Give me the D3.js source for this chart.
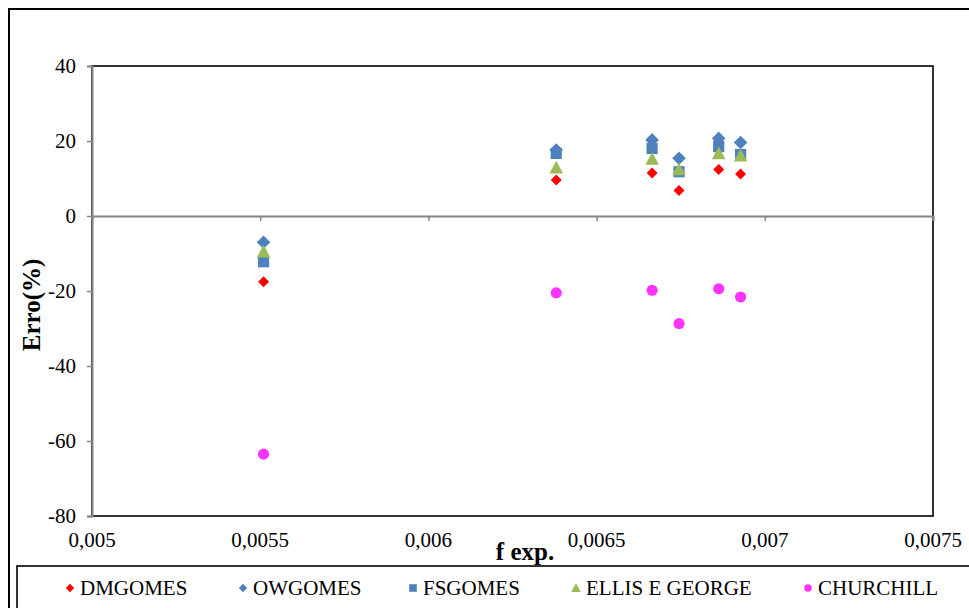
<!DOCTYPE html>
<html>
<head>
<meta charset="utf-8">
<script src="https://cdn.jsdelivr.net/npm/d3@7"></script>
<style>
  html, body { margin: 0; padding: 0; background: #fff; }
  svg { display: block; }
</style>
</head>
<body>
<svg id="chart" width="969" height="608"></svg>
<script>
// ---- data ----
const fExp = [0.00551, 0.00638, 0.006665, 0.006745, 0.006863, 0.006928];
const dmgomes = [-17.5, 9.6, 11.5, 6.8, 12.4, 11.2];
const owgomes = [-7.0, 17.6, 20.3, 15.4, 20.7, 19.6];
const fsgomes = [-12.2, 16.7, 18.0, 11.8, 18.5, 16.4];
const ellisGeorge = [-9.5, 12.9, 15.2, 12.4, 16.7, 16.1];
const churchill = [-63.5, -20.5, -19.8, -28.7, -19.4, -21.6];
const seriesNames = ["DMGOMES", "OWGOMES", "FSGOMES", "ELLIS E GEORGE", "CHURCHILL"];
const xTicks = [0.005, 0.0055, 0.006, 0.0065, 0.007, 0.0075];
const yTicks = [40, 20, 0, -20, -40, -60, -80];
const xTitle = "f exp.";
const yTitle = "Erro(%)";

const series = [
  { name: seriesNames[0], values: dmgomes, shape: "diamond", color: "#FF0000", r: 5.5, lr: 4.2 },
  { name: seriesNames[1], values: owgomes, shape: "diamond", color: "#4F81BD", r: 6.8, lr: 4.2 },
  { name: seriesNames[2], values: fsgomes, shape: "square", color: "#4F81BD", r: 5.6, lr: 3.8 },
  { name: seriesNames[3], values: ellisGeorge, shape: "triangle", color: "#9BBB59", r: 6.8, lr: 4.8 },
  { name: seriesNames[4], values: churchill, shape: "circle", color: "#FF33FF", r: 5.6, lr: 3.8 }
];

const FONT = "'Liberation Serif', 'Times New Roman', serif";

function shapePath(shape, r) {
  if (shape === "diamond") return `M0,${-r}L${r},0L0,${r}L${-r},0Z`;
  if (shape === "square") return `M${-r},${-r}H${r}V${r}H${-r}Z`;
  if (shape === "triangle") return `M0,${-r}L${r},${r * 0.85}L${-r},${r * 0.85}Z`;
  return `M${r},0A${r},${r} 0 1,1 ${-r},0A${r},${r} 0 1,1 ${r},0Z`;
}

const svg = d3.select("#chart");
const L = 92, R = 933, T = 66, B = 516;
const x = d3.scaleLinear().domain([0.005, 0.0075]).range([L, R]);
const y = d3.scaleLinear().domain([-80, 40]).range([B, T]);
const fmt = v => String(+v.toPrecision(4)).replace(".", ",");

// outer frame
svg.append("rect").attr("x", 9).attr("y", 9).attr("width", 980).attr("height", 620)
  .attr("fill", "none").attr("stroke", "#000").attr("stroke-width", 2);

// plot area border
svg.append("rect").attr("x", L).attr("y", T).attr("width", R - L).attr("height", B - T)
  .attr("fill", "#fff").attr("stroke", "#000").attr("stroke-width", 1.6);

// y axis
const yAxis = d3.axisLeft(y).tickValues(yTicks).tickSize(5).tickPadding(11).tickFormat(d => String(d));
const gy = svg.append("g").attr("transform", `translate(${L},0)`).call(yAxis);
gy.select(".domain").attr("stroke", "#868686").attr("stroke-width", 2);
gy.selectAll(".tick line").attr("stroke", "#868686").attr("stroke-width", 1.5);
gy.selectAll(".tick text").attr("fill", "#000")
  .attr("font-size", 21).attr("font-family", FONT);

// x axis along zero
const xAxis = d3.axisBottom(x).tickValues(xTicks).tickSize(5).tickFormat("");
const gx = svg.append("g").attr("transform", `translate(0,${y(0)})`).call(xAxis);
gx.select(".domain").attr("stroke", "#868686").attr("stroke-width", 2);
gx.selectAll(".tick line").attr("stroke", "#868686").attr("stroke-width", 1.5);

// x tick labels (low position)
svg.append("g").selectAll("text").data(xTicks).join("text")
  .attr("x", d => x(d)).attr("y", 547)
  .attr("text-anchor", "middle").attr("font-size", 21).attr("font-family", FONT)
  .text(d => fmt(d));

// axis titles
svg.append("text").attr("x", 525).attr("y", 560).attr("text-anchor", "middle")
  .attr("font-family", FONT).attr("font-size", 25).attr("font-weight", "bold").text(xTitle);
svg.append("text").attr("transform", "translate(40,305) rotate(-90)").attr("text-anchor", "middle")
  .attr("font-family", FONT).attr("font-size", 25).attr("font-weight", "bold").text(yTitle);

// points
series.forEach(s => {
  svg.append("g").selectAll("path").data(s.values).join("path")
    .attr("transform", (d, i) => `translate(${x(fExp[i])},${y(d)})`)
    .attr("d", shapePath(s.shape, s.r))
    .attr("fill", s.color);
});

// legend
const lg = svg.append("g");
lg.append("rect").attr("x", 17).attr("y", 566).attr("width", 970).attr("height", 60)
  .attr("fill", "#fff").attr("stroke", "#000").attr("stroke-width", 1.6);
const legendX = [70, 243, 413, 576, 808];
series.forEach((s, i) => {
  lg.append("path").attr("transform", `translate(${legendX[i]},588)`)
    .attr("d", shapePath(s.shape, s.lr)).attr("fill", s.color);
  lg.append("text").attr("x", legendX[i] + 10).attr("y", 595)
    .attr("font-family", FONT).attr("font-size", 21).text(s.name);
});
</script>
</body>
</html>
